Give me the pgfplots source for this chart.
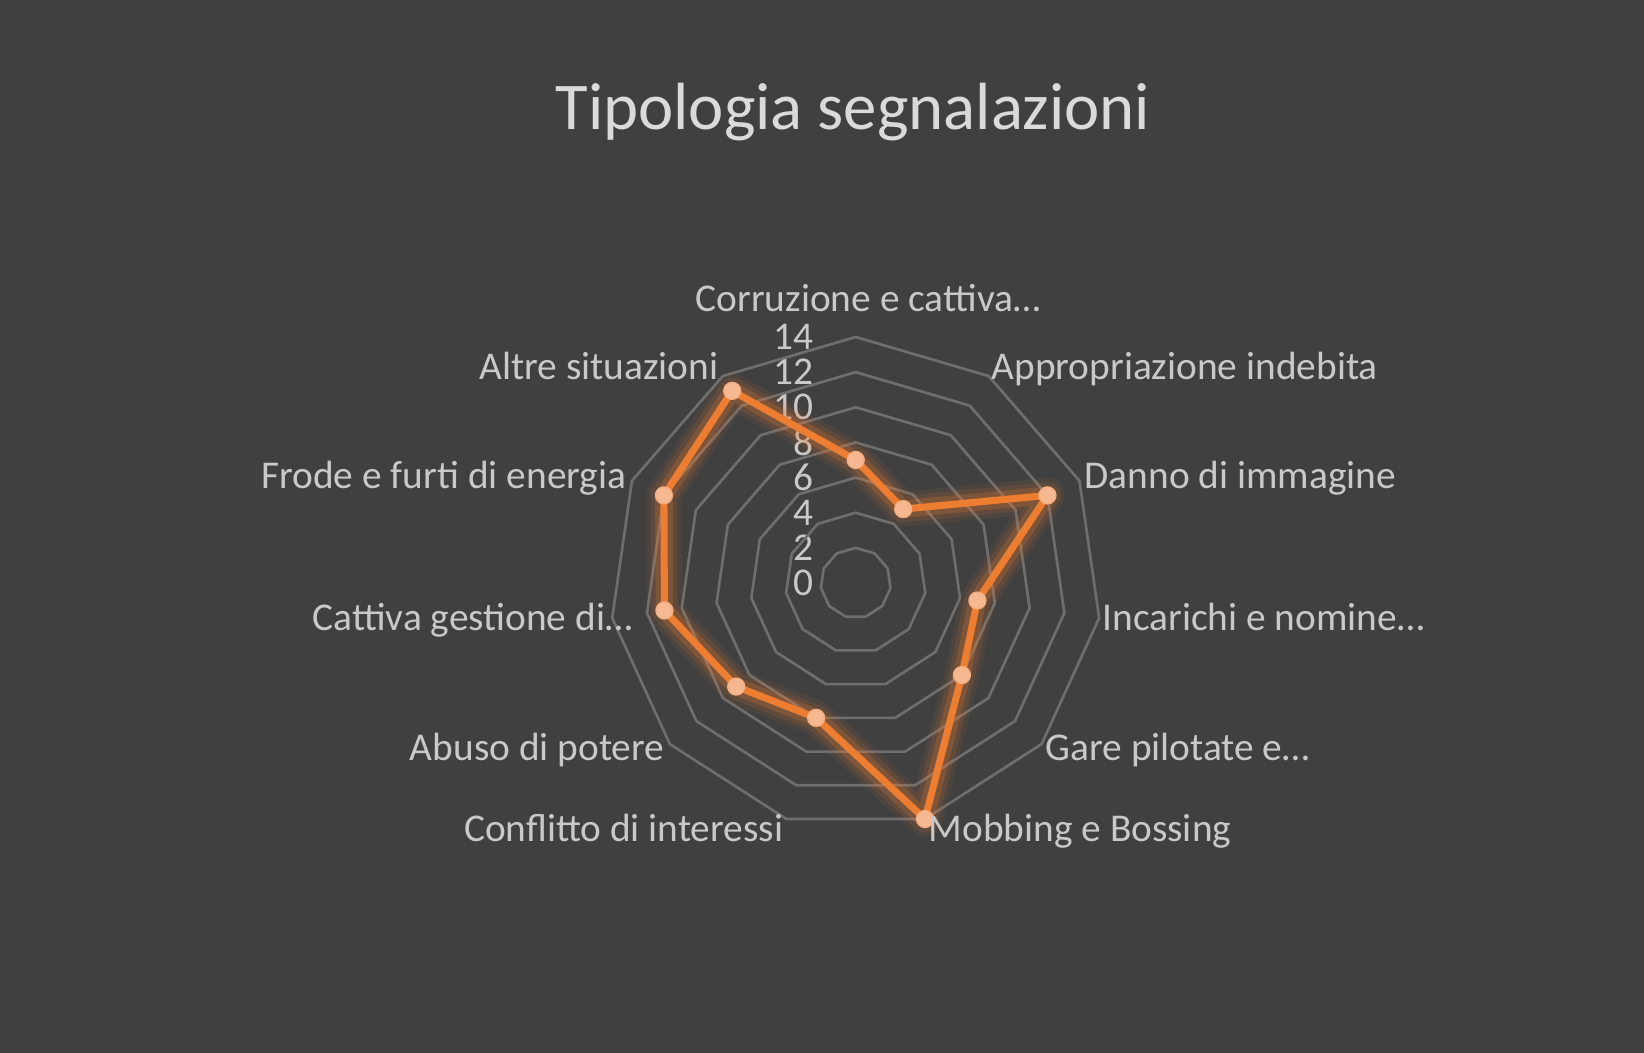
\documentclass[border=0pt]{standalone}
\usepackage{fontspec}
\setmainfont{Carlito}
\usepackage{pgfplots}
\pgfplotsset{compat=1.18}
\usepackage{pgfplotstable}

\definecolor{bg}{HTML}{404040}
\definecolor{ringc}{HTML}{6E6E6E}
\definecolor{ser}{HTML}{ED7D31}
\definecolor{mk}{HTML}{F5B891}
\definecolor{lbl}{HTML}{C9C9C9}
\definecolor{ttl}{HTML}{DADADA}

% angle (deg, clockwise from top) and count; last row closes the web
\pgfplotstableread{
angle val
90 7
57.27 5
24.55 12
-8.18 7
-40.91 8
-73.64 14
-106.36 8
-139.09 9
-171.82 11
-204.55 12
-237.27 13
-270 7
}\segn

\begin{document}
\begin{tikzpicture}
\fill[bg] (0,0) rectangle (16.44,10.53);
\useasboundingbox (0,0) rectangle (16.44,10.53);

\begin{axis}[
    at={(8.557cm,4.70cm)}, anchor=origin,
    x=0.1757cm, y=0.1757cm,
    xmin=-15, xmax=15, ymin=-15, ymax=15,
    hide axis, clip=false,
    data cs=polar,
]
% web rings
\pgfplotsinvokeforeach{2,4,...,14}{
  \draw[ringc, line width=0.75pt, line join=round]
    (axis cs:0,#1) \foreach \k in {1,...,10}{
      -- (axis cs:{#1*cos(90-\k*360/11)},{#1*sin(90-\k*360/11)}) } -- cycle;
  \node[lbl, anchor=east, inner sep=0pt, font=\fontsize{11.2}{13}\selectfont]
    at (axis cs:-2.36,#1) {#1};
}
\node[lbl, anchor=east, inner sep=0pt, font=\fontsize{11.2}{13}\selectfont]
  at (axis cs:-2.36,0) {0};

% glow
\addplot[ser, line width=10pt, opacity=0.07, line join=round, line cap=round] table[x=angle,y=val] {\segn};
\addplot[ser, line width=7.5pt, opacity=0.12, line join=round, line cap=round] table[x=angle,y=val] {\segn};
\addplot[ser, line width=5pt, opacity=0.22, line join=round, line cap=round] table[x=angle,y=val] {\segn};
% series
\addplot[ser, line width=2pt, line join=round, line cap=round] table[x=angle,y=val] {\segn};
\addplot[only marks, mark=*, mark size=2.4pt,
    mark options={fill=mk, draw=mk!85!ser, line width=0.4pt},
    skip coords between index={11}{12}] table[x=angle,y=val] {\segn};
\end{axis}

\node[ttl, anchor=base, inner sep=0pt, font=\fontsize{19}{23}\selectfont]
  at (8.53,9.23) {Tipologia segnalazioni};

\begin{scope}[every node/.style={lbl, inner sep=0pt, font=\fontsize{11.2}{13}\selectfont}]
\node[anchor=base] at (8.68,7.41) {Corruzione e cattiva…};
\node[anchor=base west] at (9.91,6.73) {Appropriazione indebita};
\node[anchor=base west] at (10.84,5.64) {Danno di immagine};
\node[anchor=base west] at (11.02,4.22) {Incarichi e nomine…};
\node[anchor=base west] at (10.45,2.92) {Gare pilotate e…};
\node[anchor=base west] at (9.28,2.11) {Mobbing e Bossing};
\node[anchor=base east] at (7.84,2.11) {Conflitto di interessi};
\node[anchor=base east] at (6.65,2.92) {Abuso di potere};
\node[anchor=base east] at (6.33,4.22) {Cattiva gestione di…};
\node[anchor=base east] at (6.27,5.64) {Frode e furti di energia};
\node[anchor=base east] at (7.19,6.73) {Altre situazioni};
\end{scope}
\end{tikzpicture}
\end{document}
